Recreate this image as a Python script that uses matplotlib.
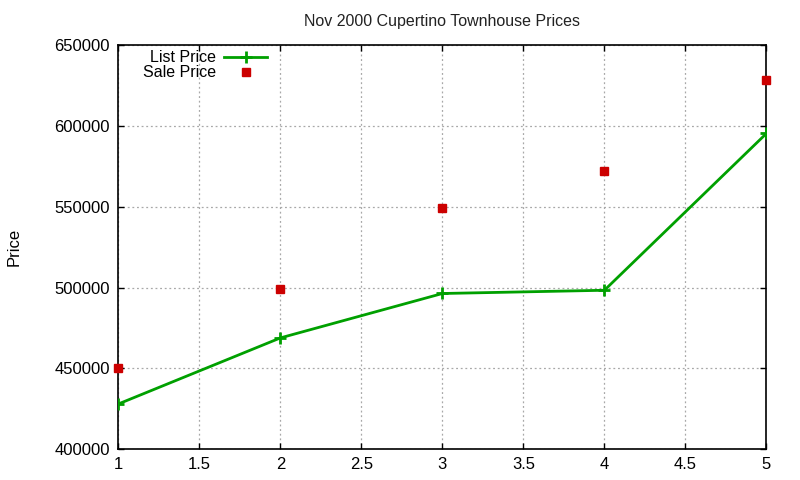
import matplotlib
matplotlib.use('Agg')
import matplotlib.pyplot as plt

# values
units = [1, 2, 3, 4, 5]
list_price = [427900, 468800, 496300, 498300, 595400]
sale_price = [450000, 499000, 549500, 572400, 628400]

x_ticks = [1, 1.5, 2, 2.5, 3, 3.5, 4, 4.5, 5]
x_tick_labels = ['1', '1.5', '2', '2.5', '3', '3.5', '4', '4.5', '5']
y_ticks = [400000, 450000, 500000, 550000, 600000, 650000]

plt.rcParams['font.family'] = ['Liberation Sans', 'DejaVu Sans']

fig = plt.figure(figsize=(8, 4.8), dpi=100)
ax = fig.add_axes([0.148, 0.0646, 0.81, 0.841])

ax.plot(units, list_price, color='#00a000', linewidth=2, marker='+',
        markersize=9, markeredgewidth=2, label='List Price', zorder=3)
ax.plot(units, sale_price, linestyle='none', color='#cc0000', marker='s',
        markersize=5.6, label='Sale Price', zorder=4, clip_on=False)

ax.set_xlim(1, 5)
ax.set_ylim(400000, 650000)
ax.set_xticks(x_ticks)
ax.set_xticklabels(x_tick_labels)
ax.set_yticks(y_ticks)
ax.tick_params(direction='in', length=4.5, width=1, top=True, right=True,
               labelsize=12, pad=6, colors='black')
ax.grid(True, color='#a8a8a8', linestyle=(0, (1.5, 2.2)), linewidth=0.9)
ax.set_axisbelow(True)
for spine in ax.spines.values():
    spine.set_linewidth(1.2)

ax.set_title('Nov 2000 Cupertino Townhouse Prices', fontsize=11.5, pad=14,
             color='#222222')
ax.set_ylabel('Price', fontsize=12, labelpad=24)

ax.legend(loc='upper right', bbox_to_anchor=(0.2295, 0.988), markerfirst=False,
          frameon=False, fontsize=11.5, handlelength=2.7, handletextpad=0.5,
          labelspacing=0.0, borderpad=0, borderaxespad=0)

fig.savefig('out.png', dpi=100)
plt.close(fig)
